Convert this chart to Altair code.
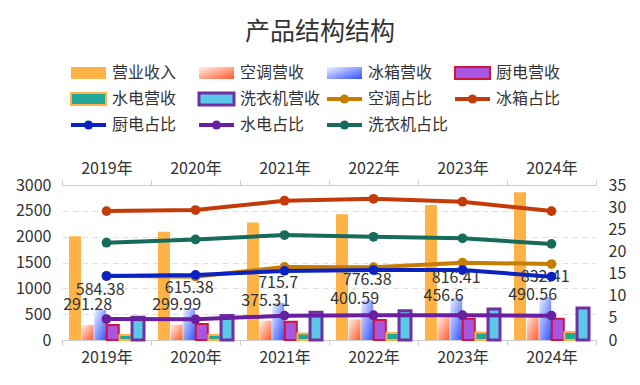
import altair as alt
import pandas as pd

FONT = "Noto Sans CJK SC"

# ---------------- data ----------------
years = ["2019年", "2020年", "2021年", "2022年", "2023年", "2024年"]
revenue = [2007.62, 2097.26, 2275.56, 2435.14, 2614.28, 2859.81]
ac_rev = [291.28, 299.99, 375.31, 400.59, 456.6, 490.56]
fridge_rev = [584.38, 615.38, 715.7, 776.38, 816.41, 832.41]
kitchen_rev = [290, 308, 355, 385, 413, 409]
water_rev = [95, 98, 125, 136, 146, 157]
washer_rev = [441, 476, 539, 567, 600, 621]

ac_pct = [14.51, 14.30, 16.49, 16.45, 17.47, 17.15]
fridge_pct = [29.11, 29.34, 31.45, 31.88, 31.23, 29.11]
kitchen_pct = [14.45, 14.7, 15.6, 15.8, 15.8, 14.3]
water_pct = [4.74, 4.67, 5.5, 5.6, 5.6, 5.5]
washer_pct = [21.97, 22.7, 23.7, 23.3, 22.96, 21.7]

bar_series = ["营业收入", "空调营收", "冰箱营收", "厨电营收", "水电营收", "洗衣机营收"]
line_series = ["空调占比", "冰箱占比", "厨电占比", "水电占比", "洗衣机占比"]
labelled_series = ["空调营收", "冰箱营收"]
title_text = "产品结构结构"

bar_values = [revenue, ac_rev, fridge_rev, kitchen_rev, water_rev, washer_rev]
line_values = [ac_pct, fridge_pct, kitchen_pct, water_pct, washer_pct]

bars_df = pd.DataFrame(
    [{"year": y, "series": s, "value": v}
     for s, vals in zip(bar_series, bar_values) for y, v in zip(years, vals)]
)
lines_df = pd.DataFrame(
    [{"year": y, "series": s, "value": v}
     for s, vals in zip(line_series, line_values) for y, v in zip(years, vals)]
)

# ---------------- styles ----------------
def grad(c0, c1):
    return alt.LinearGradient(
        gradient="linear",
        stops=[alt.GradientStop(color=c0, offset=0), alt.GradientStop(color=c1, offset=1)],
        x1=0, x2=1, y1=0, y2=1,
    )

bar_styles = {
    "营业收入": dict(color="#FFB347"),
    "空调营收": dict(color=grad("#FFF1EA", "#FF5A2A")),
    "冰箱营收": dict(color=grad("#EEF2FF", "#3152FF")),
    "厨电营收": dict(fill="#A855E0", stroke="#D2143A", strokeWidth=2),
    "水电营收": dict(fill="#22A898", stroke="#FFB347", strokeWidth=2),
    "洗衣机营收": dict(fill="#5AC8E8", stroke="#7030A0", strokeWidth=3),
}
line_colors = {
    "空调占比": "#C77C02",
    "冰箱占比": "#C43A08",
    "厨电占比": "#0A22C0",
    "水电占比": "#6A1EA0",
    "洗衣机占比": "#176B5B",
}

x_scale = alt.Scale(type="band", domain=years, paddingInner=0, paddingOuter=0)
xoff_scale = alt.Scale(domain=bar_series, paddingInner=0.05, paddingOuter=0.555)
y_left_scale = alt.Scale(domain=[0, 3000], nice=False)
y_right_scale = alt.Scale(domain=[0, 35], nice=False)

def x_axis(orient):
    return alt.Axis(orient=orient, tickBand="extent", domainColor="#CCCCCC",
                    tickColor="#CCCCCC", tickSize=5, labelFontSize=16,
                    labelColor="#333333", labelPadding=4, labelAngle=0,
                    grid=False, labelFont=FONT, title=None)

y_left_axis = alt.Axis(orient="left", values=list(range(0, 3001, 500)), format="d",
                       domain=False, ticks=False, grid=True, gridColor="#E0E0E0",
                       gridDash=[6, 4], labelFontSize=16, labelColor="#333333",
                       labelPadding=11, labelFont=FONT, title=None)
y_right_axis = alt.Axis(orient="right", values=list(range(0, 36, 5)), format="d",
                        domain=False, ticks=False, grid=False, labelFontSize=16,
                        labelColor="#333333", labelPadding=12, labelFont=FONT, title=None)

layers = []

# ---------------- bars ----------------
for i, s in enumerate(bar_series):
    layers.append(
        alt.Chart(bars_df)
        .transform_filter(alt.datum.series == s)
        .mark_bar(**bar_styles[s])
        .encode(
            x=alt.X("year:N", sort=years, scale=x_scale,
                    axis=x_axis("bottom") if i == 0 else None),
            xOffset=alt.XOffset("series:N", sort=bar_series, scale=xoff_scale),
            y=alt.Y("value:Q", scale=y_left_scale,
                    axis=y_left_axis if i == 0 else None),
        )
    )

layers.append(
    alt.Chart(bars_df)
    .transform_filter(alt.FieldOneOfPredicate(field="series", oneOf=labelled_series))
    .mark_text(fontSize=16, color="#333333", font=FONT, baseline="middle", dy=-20)
    .encode(
        x=alt.X("year:N", sort=years, scale=x_scale, axis=None),
        xOffset=alt.XOffset("series:N", sort=bar_series, scale=xoff_scale),
        y=alt.Y("value:Q", scale=y_left_scale, axis=None),
        text=alt.Text("value:Q"),
    )
)

# ---------------- lines ----------------
for i, s in enumerate(line_series):
    base = alt.Chart(lines_df).transform_filter(alt.datum.series == s).encode(
        x=alt.X("year:N", sort=years, scale=x_scale,
                axis=x_axis("top") if i == 0 else None),
        y=alt.Y("value:Q", scale=y_right_scale,
                axis=y_right_axis if i == 0 else None),
    )
    layers.append(base.mark_line(color=line_colors[s], strokeWidth=4))
    layers.append(
        base.mark_circle(color=line_colors[s], size=95, opacity=1).encode(
            x=alt.X("year:N", sort=years, scale=x_scale, axis=None),
            y=alt.Y("value:Q", scale=y_right_scale, axis=None),
        )
    )

# ---------------- legend (custom) ----------------
legend_items = bar_series + line_series
col_x0, col_step = 9, 128
row_y0, row_step = -112, 26
sym_w, sym_h = 35, 12
for idx, name in enumerate(legend_items):
    col, row = idx % 4, idx // 4
    x0 = col_x0 + col * col_step
    yc = row_y0 + row * row_step
    d = alt.Chart(pd.DataFrame({"name": [name]}))
    if name in bar_styles:
        layers.append(
            d.mark_rect(**bar_styles[name]).encode(
                x=alt.value(x0), x2=alt.value(x0 + sym_w),
                y=alt.value(yc - sym_h / 2), y2=alt.value(yc + sym_h / 2))
        )
    else:
        c = line_colors[name]
        layers.append(
            d.mark_rule(color=c, strokeWidth=4).encode(
                x=alt.value(x0), x2=alt.value(x0 + sym_w), y=alt.value(yc))
        )
        layers.append(
            d.mark_circle(color=c, size=85, opacity=1).encode(
                x=alt.value(x0 + sym_w / 2), y=alt.value(yc))
        )
    layers.append(
        d.mark_text(align="left", baseline="middle", fontSize=16, color="#333333",
                    font=FONT).encode(
            x=alt.value(x0 + sym_w + 6), y=alt.value(yc), text="name:N")
    )

layers.append(
    alt.Chart(pd.DataFrame({"t": [title_text]}))
    .mark_text(fontSize=25, color="#333333", font=FONT, baseline="middle")
    .encode(x=alt.value(258), y=alt.value(-153), text="t:N")
)

chart = (
    alt.layer(*layers)
    .resolve_scale(y="independent")
    .resolve_axis(x="independent", y="independent")
    .properties(
        width=534, height=155,
        autosize=alt.AutoSizeParams(type="none"),
        padding={"left": 54, "top": 177, "right": 36, "bottom": 37},
        background="white",
    )
    .configure_view(stroke=None)
)

chart.save("out.html", embed_options={"renderer": "svg", "actions": False})
